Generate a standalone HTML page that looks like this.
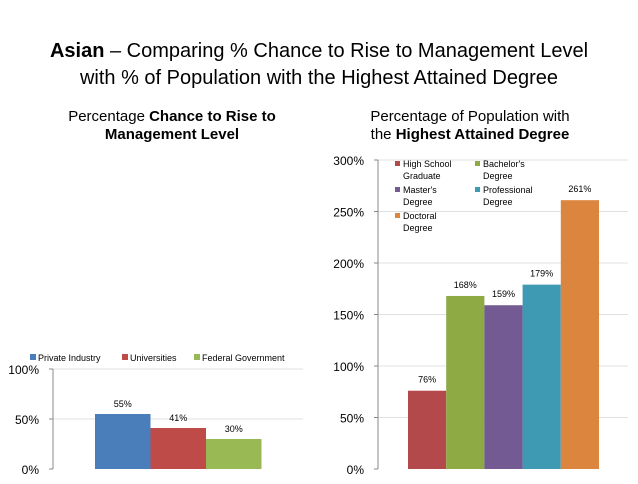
<!DOCTYPE html>
<html><head><meta charset="utf-8"><style>
body{margin:0;width:638px;height:479px;background:#fff;overflow:hidden;font-family:"Liberation Sans",sans-serif}
</style></head><body>
<svg width="638" height="479" font-family="Liberation Sans, sans-serif">
<text x="319" y="57" text-anchor="middle" font-size="20"><tspan font-weight="bold">Asian</tspan> – Comparing % Chance to Rise to Management Level</text>
<text x="319" y="84" text-anchor="middle" font-size="20">with % of Population with the Highest Attained Degree</text>
<text x="172" y="121" text-anchor="middle" font-size="15">Percentage <tspan font-weight="bold">Chance to Rise to</tspan></text>
<text x="172" y="139" text-anchor="middle" font-size="15" font-weight="bold">Management Level</text>
<text x="470" y="121" text-anchor="middle" font-size="15">Percentage of Population with</text>
<text x="470" y="139" text-anchor="middle" font-size="15">the <tspan font-weight="bold">Highest Attained Degree</tspan></text>
<g id="left"></g>
<g id="right"></g>
</svg>
<script>
const leftCats=["Private Industry","Universities","Federal Government"];
const leftVals=[55,41,30];
const leftLabels=["55%","41%","30%"];
const leftTicks=[0,50,100];
const leftColors=["#4a7ebb","#be4b48","#98b954"];
const rightCats=["High School Graduate","Bachelor's Degree","Master's Degree","Professional Degree","Doctoral Degree"];
const rightVals=[76,168,159,179,261];
const rightLabels=["76%","168%","159%","179%","261%"];
const rightTicks=[0,50,100,150,200,250,300];
const rightColors=["#b3494a","#8daa45","#735a92","#3e9ab3","#dc853e"];
const NS="http://www.w3.org/2000/svg";
function mk(p,t,a){const e=document.createElementNS(NS,t);for(const k in a)e.setAttribute(k,a[k]);p.appendChild(e);return e;}
(function(){
const g=document.getElementById('left');
const y=v=>469-v*1.0, x0=53,x1=303;
leftTicks.forEach(t=>{
 if(t>0){const l=mk(g,'line',{x1:x0,x2:x1,y1:y(t),y2:y(t),stroke:'#e0e0e0'});
 
 }
 const tx=mk(g,'text',{x:x0-14,y:y(t)+5,'text-anchor':'end','font-size':12});tx.textContent=t+'%';
 
 
 mk(g,'line',{x1:x0-4,x2:x0,y1:y(t),y2:y(t),stroke:'#888'});
});
mk(g,'line',{x1:x0,x2:x0,y1:y(100),y2:y(0),stroke:'#888'});
const bw=55.5,bx=95;
leftVals.forEach((v,i)=>{
 const r=mk(g,'rect',{x:bx+i*bw,y:y(v),width:bw,height:v*1.0,fill:leftColors[i]});
 
 
 const t=mk(g,'text',{x:bx+i*bw+bw/2,y:y(v)-7,'text-anchor':'middle','font-size':9});t.textContent=leftLabels[i];
 
 
});
const lx=[30,122,194];
leftCats.forEach((c,i)=>{
 mk(g,'rect',{x:lx[i],y:354,width:6,height:6,fill:leftColors[i]});
 const t=mk(g,'text',{x:lx[i]+8,y:361,'font-size':9});t.textContent=c;
 
 
});
})();
(function(){
const g=document.getElementById('right');
const y=v=>469-v*1.03, x0=378,x1=628;
rightTicks.forEach(t=>{
 if(t>0){const l=mk(g,'line',{x1:x0,x2:x1,y1:y(t),y2:y(t),stroke:'#e0e0e0'});
 
 }
 const tx=mk(g,'text',{x:x0-14,y:y(t)+5,'text-anchor':'end','font-size':12});tx.textContent=t+'%';
 
 
 mk(g,'line',{x1:x0-4,x2:x0,y1:y(t),y2:y(t),stroke:'#888'});
});
mk(g,'line',{x1:x0,x2:x0,y1:y(300),y2:y(0),stroke:'#888'});
const bw=38.2,bx=408;
rightVals.forEach((v,i)=>{
 const r=mk(g,'rect',{x:bx+i*bw,y:y(v),width:bw,height:v*1.03,fill:rightColors[i]});
 
 
 const t=mk(g,'text',{x:bx+i*bw+bw/2,y:y(v)-8,'text-anchor':'middle','font-size':9});t.textContent=rightLabels[i];
 
 
});
const pos=[[395,167],[475,167],[395,193],[475,193],[395,219]];
rightCats.forEach((c,i)=>{
 const [px,py]=pos[i];
 mk(g,'rect',{x:px,y:py-6,width:5,height:5,fill:rightColors[i]});
 const w=c.split(' ');const l2=w.pop();
 const t=mk(g,'text',{x:px+8,y:py,'font-size':9});t.textContent=w.join(' ');
 
 
 const t2=mk(g,'text',{x:px+8,y:py+12,'font-size':9});t2.textContent=l2;
 
 
});
})();
</script>
</body></html>
